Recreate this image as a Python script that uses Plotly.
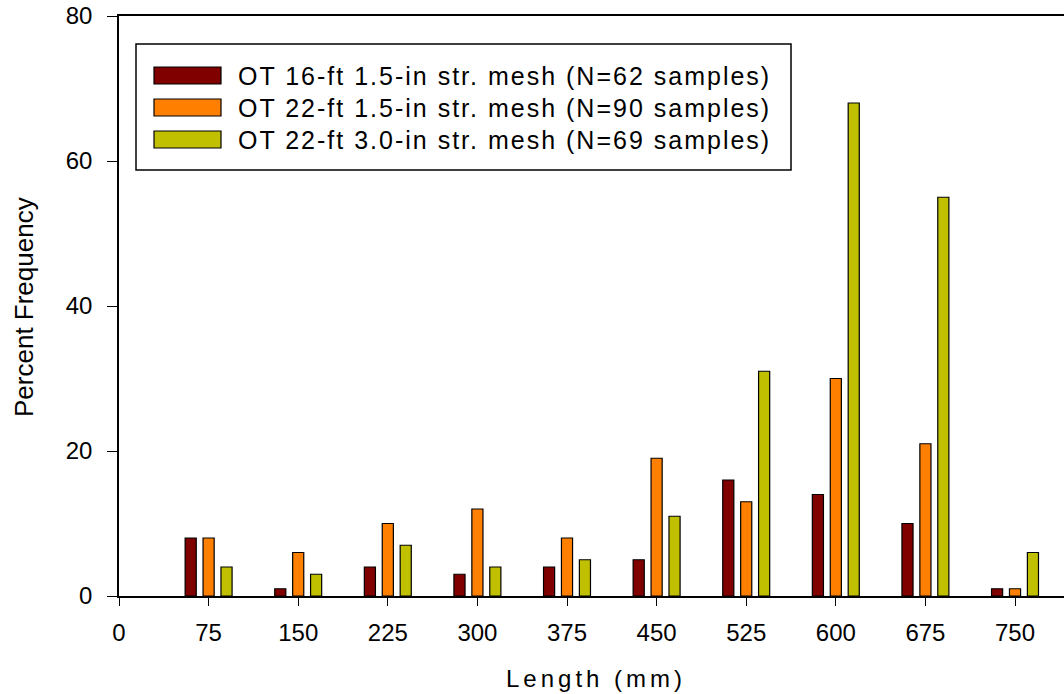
import plotly.graph_objects as go

# ---- data ----
lengths = [75, 150, 225, 300, 375, 450, 525, 600, 675, 750]
ot16_15 = [8, 1, 4, 3, 4, 5, 16, 14, 10, 1]
ot22_15 = [8, 6, 10, 12, 8, 19, 13, 30, 21, 1]
ot22_30 = [4, 3, 7, 4, 5, 11, 31, 68, 55, 6]
series_names = [
    "OT 16-ft 1.5-in str. mesh (N=62 samples)",
    "OT 22-ft 1.5-in str. mesh (N=90 samples)",
    "OT 22-ft 3.0-in str. mesh (N=69 samples)",
]
series_values = [ot16_15, ot22_15, ot22_30]
colors = ["#800000", "#FF8000", "#C0C000"]
x_tickvals = [0, 75, 150, 225, 300, 375, 450, 525, 600, 675, 750]
y_tickvals = [0, 20, 40, 60, 80]

W, H = 1064, 694
ML, MR, MT, MB = 119, 0, 16, 98
PW, PH = W - ML - MR, H - MT - MB
FONT = "Liberation Sans, Arial, sans-serif"


def px_x(px):
    return (px - ML) / PW


def px_y(py):
    return (H - MB - py) / PH


fig = go.Figure()
for name, vals, col in zip(series_names, series_values, colors):
    fig.add_trace(go.Bar(
        x=lengths, y=vals, name=name, showlegend=False,
        marker=dict(color=col, line=dict(color="#000000", width=1.2)),
    ))

# manual legend (wide swatches like the original)
shapes = [dict(type="rect", xref="paper", yref="paper",
               x0=px_x(136), x1=px_x(791), y0=px_y(170), y1=px_y(44),
               line=dict(color="#000000", width=1.5), fillcolor="white", layer="below")]
annotations = []
row_y = [75.5, 107.5, 139.5]
for name, col, ry in zip(series_names, colors, row_y):
    shapes.append(dict(type="rect", xref="paper", yref="paper",
                       x0=px_x(154), x1=px_x(221), y0=px_y(ry + 8.5), y1=px_y(ry - 8.5),
                       line=dict(color="#000000", width=1.2), fillcolor=col))
    annotations.append(dict(
        xref="paper", yref="paper", x=px_x(236), y=px_y(ry),
        xanchor="left", yanchor="middle", showarrow=False,
        text='<span style="letter-spacing:2px">%s</span>' % name,
        font=dict(family=FONT, size=25, color="#000000")))

# axis titles
annotations.append(dict(
    xref="paper", yref="paper", x=px_x(596), y=px_y(678),
    xanchor="center", yanchor="middle", showarrow=False,
    text='<span style="letter-spacing:4px">Length (mm)</span>',
    font=dict(family=FONT, size=24, color="#000000")))
annotations.append(dict(
    xref="paper", yref="paper", x=px_x(24), y=px_y(307),
    xanchor="center", yanchor="middle", showarrow=False, textangle=-90,
    text="Percent Frequency",
    font=dict(family=FONT, size=26, color="#000000")))

fig.update_layout(
    width=W, height=H,
    margin=dict(l=ML, r=MR, t=MT, b=MB, pad=0),
    paper_bgcolor="white", plot_bgcolor="white",
    barmode="group", bargap=0.4, bargroupgap=0.38,
    font=dict(family=FONT, size=24, color="#000000"),
    shapes=shapes, annotations=annotations,
    xaxis=dict(
        range=[0, 791], tickvals=x_tickvals, ticktext=[str(v) for v in x_tickvals],
        showgrid=False, zeroline=False, showline=True, linecolor="#000000", linewidth=1.5,
        mirror=True, ticks="outside", ticklen=8, tickwidth=1.2, tickcolor="#000000",
        ticklabelstandoff=6, tickfont=dict(size=24),
    ),
    yaxis=dict(
        range=[0, 80], tickvals=y_tickvals, ticktext=[str(v) for v in y_tickvals],
        showgrid=False, zeroline=False, showline=True, linecolor="#000000", linewidth=1.5,
        ticks="outside", ticklen=10, tickwidth=1.2, tickcolor="#000000",
        ticklabelstandoff=10, tickfont=dict(size=24),
    ),
)

fig.write_html("out.html")
